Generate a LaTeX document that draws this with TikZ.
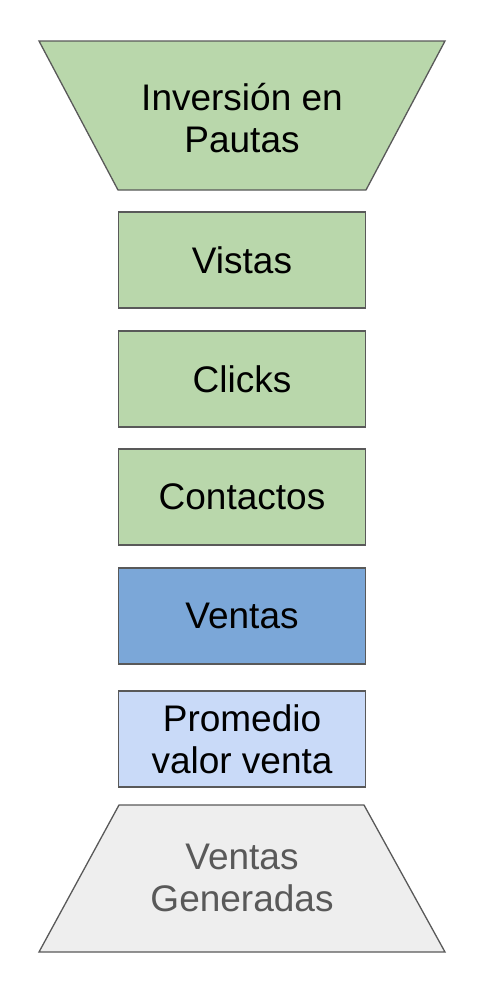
\documentclass[tikz,border=0pt]{standalone}
\usepackage{fontspec}
\setmainfont{Liberation Sans}
\definecolor{bordergray}{HTML}{595959}
\definecolor{greenfill}{HTML}{B9D7AB}
\definecolor{bluefill}{HTML}{7BA7D8}
\definecolor{lightblue}{HTML}{C9DAF8}
\definecolor{grayfill}{HTML}{EEEEEE}
\definecolor{graytext}{HTML}{595959}
\begin{document}
\begin{tikzpicture}[x=1pt,y=-1pt,
  shapeline/.style={draw=bordergray,line width=1.3pt,line join=miter},
  lbl/.style={align=center,font=\fontsize{37}{42}\selectfont,inner sep=0pt},
  stagebox/.style={shapeline,minimum width=247pt,minimum height=96pt,inner sep=0pt,align=center,font=\fontsize{37}{42}\selectfont}]
\useasboundingbox (0,0) rectangle (488,994);
% top trapezoid
\draw[shapeline,fill=greenfill] (39,41) -- (445,41) -- (366,190) -- (118,190) -- cycle;
\node[lbl] (inv) at (242,118) {Inversión en\\Pautas};
% boxes
\node[stagebox,fill=greenfill] (vistas) at (242,260) {Vistas};
\node[stagebox,fill=greenfill] (clicks) at (242,379) {Clicks};
\node[stagebox,fill=greenfill] (contactos) at (242,497) {Contactos};
\node[stagebox,fill=bluefill] (ventas) at (242,616) {Ventas};
\node[stagebox,fill=lightblue] (promedio) at (242,739) {Promedio\\valor venta};
% bottom trapezoid
\draw[shapeline,fill=grayfill] (119,805) -- (364,805) -- (445,952) -- (39,952) -- cycle;
\node[lbl,text=graytext] (generadas) at (242,878) {Ventas\\Generadas};
\end{tikzpicture}
\end{document}
